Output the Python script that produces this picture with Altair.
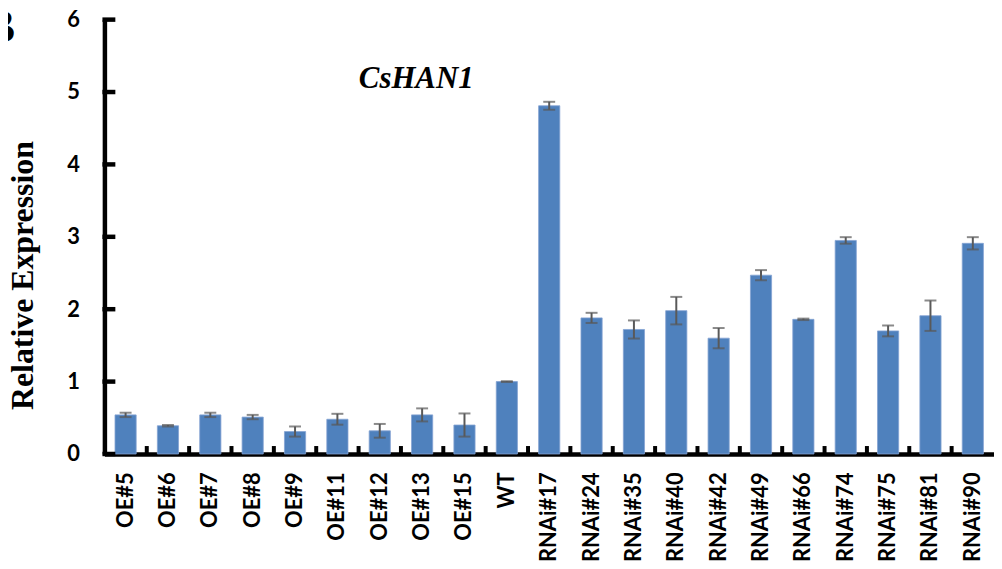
import altair as alt
import pandas as pd

# ---- data ----
lines = ["OE#5", "OE#6", "OE#7", "OE#8", "OE#9", "OE#11", "OE#12", "OE#13", "OE#15", "WT",
         "RNAi#17", "RNAi#24", "RNAi#35", "RNAi#40", "RNAi#42", "RNAi#49", "RNAi#66",
         "RNAi#74", "RNAi#75", "RNAi#81", "RNAi#90"]
means = [0.54, 0.39, 0.54, 0.51, 0.31, 0.48, 0.32, 0.54, 0.40, 1.00,
         4.81, 1.88, 1.72, 1.98, 1.60, 2.47, 1.86, 2.95, 1.70, 1.91, 2.91]
errs = [0.03, 0.01, 0.03, 0.03, 0.07, 0.075, 0.095, 0.09, 0.16, 0.005,
        0.055, 0.07, 0.125, 0.19, 0.14, 0.07, 0.01, 0.045, 0.075, 0.21, 0.085]
y_ticks = [0, 1, 2, 3, 4, 5, 6]

df = pd.DataFrame({"line": lines, "mean": means, "err": errs})
df["lo"] = df["mean"] - df["err"]
df["hi"] = df["mean"] + df["err"]
tick_df = pd.DataFrame({"v": y_ticks})
bound_df = pd.DataFrame({"line": lines[1:]})

W, H = 895, 437
yscale = alt.Scale(domain=[0, 6], nice=False, zero=True)
xscale = alt.Scale(paddingInner=0, paddingOuter=0)

x_axis = alt.Axis(title=None, labelAngle=270, labelAlign="right", labelBaseline="middle",
                  labelFont="Lato", labelFontWeight="bold", labelFontSize=22,
                  labelColor="black", labelPadding=18, ticks=False,
                  domainColor="black", domainWidth=4.5)
y_axis = alt.Axis(title="Relative Expression", values=y_ticks, format="d", ticks=False, grid=False,
                  labelFont="Lato", labelFontWeight="bold", labelFontSize=22,
                  labelColor="black", labelPadding=25,
                  domainColor="black", domainWidth=4.5,
                  titleFont="Liberation Serif", titleFontWeight="bold", titleFontSize=32,
                  titleColor="black", titleAngle=270, titleAlign="center",
                  titleBaseline="alphabetic", titleX=-72, titleY=257)

bars = alt.Chart(df).mark_bar(
    width=alt.RelativeBandSize(0.5), color="#4F81BD", stroke="#84A3D3", strokeWidth=0.8
).encode(
    x=alt.X("line:N", sort=lines, scale=xscale, axis=x_axis),
    y=alt.Y("mean:Q", scale=yscale, axis=y_axis),
)

err_rule = alt.Chart(df).mark_rule(color="#595959", strokeWidth=2).encode(
    x=alt.X("line:N", sort=lines),
    y=alt.Y("lo:Q", scale=yscale),
    y2="hi:Q",
)
cap_lo = alt.Chart(df).mark_tick(color="#595959", size=12, thickness=2, orient="horizontal").encode(
    x=alt.X("line:N", sort=lines),
    y=alt.Y("lo:Q", scale=yscale),
)
cap_hi = alt.Chart(df).mark_tick(color="#595959", size=12, thickness=2, orient="horizontal").encode(
    x=alt.X("line:N", sort=lines),
    y=alt.Y("hi:Q", scale=yscale),
)

y_tick_marks = alt.Chart(tick_df).mark_rule(color="black", strokeWidth=4.5).encode(
    y=alt.Y("v:Q", scale=yscale),
    x=alt.value(-2),
    x2=alt.value(11),
)
x_tick_marks = alt.Chart(bound_df).mark_rule(color="black", strokeWidth=4).encode(
    x=alt.X("line:N", sort=lines, bandPosition=0),
    y=alt.value(H),
    y2=alt.value(H - 8),
)

panel_letter = alt.Chart(pd.DataFrame({"t": ["B"]})).mark_text(
    font="Liberation Serif", fontWeight="bold", fontSize=46, color="black",
    align="right", baseline="alphabetic"
).encode(text="t:N", x=alt.value(-90), y=alt.value(23))

chart = alt.layer(
    bars, err_rule, cap_lo, cap_hi, y_tick_marks, x_tick_marks, panel_letter
).properties(
    width=W, height=H,
    title=alt.TitleParams("CsHAN1", anchor="start", frame="group", font="Liberation Serif",
                          fontStyle="italic", fontWeight="bold", fontSize=31, color="black",
                          baseline="alphabetic", offset=0, dx=256, dy=114),
    autosize=alt.AutoSizeParams(type="none"),
    padding={"left": 97, "top": 10, "right": 0, "bottom": 112},
    background="white",
).configure_view(stroke=None)

chart.save("out.html", embed_options={"renderer": "svg", "actions": False})
